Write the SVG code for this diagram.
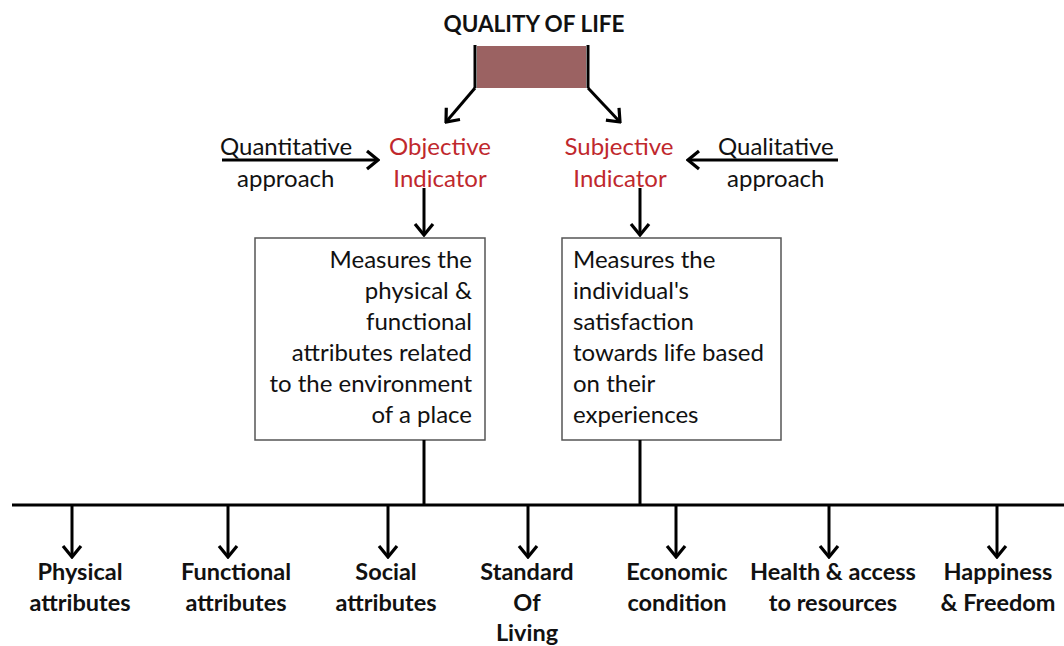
<svg xmlns="http://www.w3.org/2000/svg" width="1064" height="646" viewBox="0 0 1064 646">
<style>
text{font-family:Lato,"Open Sans","Liberation Sans",sans-serif;font-size:24px;fill:#111}
.b{font-weight:bold;font-size:23.5px}
.c{text-anchor:middle}
.r{text-anchor:end}
.red{fill:#c0282d}
.ln{stroke:#000;stroke-width:3;fill:none}
.ar{stroke:#000;stroke-width:3;fill:none;marker-end:url(#ah)}
.box{fill:#fff;stroke:#555;stroke-width:1.5}
</style>
<defs>
<marker id="ah" viewBox="-14 -12 16 24" refX="0" refY="0" markerWidth="16" markerHeight="24" markerUnits="userSpaceOnUse" orient="auto">
<path d="M-11,-9 L0,0 L-11,9" fill="none" stroke="#000" stroke-width="3.2"/>
</marker>
</defs>
<g id="quality">
<text class="b c" x="534" y="32" style="font-size:22.5px">QUALITY OF LIFE</text>
<rect x="477" y="46" width="109" height="42" fill="#9b6262"/>
</g>
<g id="quantitative"><text x="220" y="155">Quantitative</text><text x="237" y="187">approach</text></g>
<g id="objective"><text class="c red" x="440" y="155">Objective</text><text class="c red" x="440" y="187">Indicator</text></g>
<g id="subjective"><text class="c red" x="619" y="155">Subjective</text><text class="c red" x="620" y="187">Indicator</text></g>
<g id="qualitative"><text x="718" y="155">Qualitative</text><text x="727" y="187">approach</text></g>
<g id="obj-box">
<rect class="box" x="255" y="238" width="230" height="202"/>
<text class="r" x="472" y="268">Measures the</text>
<text class="r" x="472" y="299">physical &amp;</text>
<text class="r" x="472" y="330">functional</text>
<text class="r" x="472" y="361">attributes related</text>
<text class="r" x="472" y="392">to the environment</text>
<text class="r" x="472" y="423">of a place</text>
</g>
<g id="subj-box">
<rect class="box" x="562" y="238" width="219" height="202"/>
<text x="573" y="268">Measures the</text>
<text x="573" y="299">individual's</text>
<text x="573" y="330">satisfaction</text>
<text x="573" y="361">towards life based</text>
<text x="573" y="392">on their</text>
<text x="573" y="423">experiences</text>
</g>
<g id="connectors">
<path class="ln" d="M475,45 V88"/>
<path class="ln" d="M588,45 V88"/>
<path class="ar" d="M475,88 L446,122"/>
<path class="ar" d="M588,88 L620,122"/>
<path class="ar" d="M222,160 H378"/>
<path class="ar" d="M838,160 H688"/>
<path class="ar" d="M424,188 V235"/>
<path class="ar" d="M640,188 V235"/>
<path class="ln" d="M424,440 V505"/>
<path class="ln" d="M640,440 V505"/>
<path class="ln" d="M12,505 H1064"/>
<path class="ar" d="M72,505 V557"/>
<path class="ar" d="M228,505 V557"/>
<path class="ar" d="M388,505 V557"/>
<path class="ar" d="M528,505 V557"/>
<path class="ar" d="M676,505 V557"/>
<path class="ar" d="M829,505 V557"/>
<path class="ar" d="M997,505 V557"/>
</g>
<g id="physical"><text class="b c" x="80" y="580">Physical</text><text class="b c" x="80" y="611">attributes</text></g>
<g id="functional"><text class="b c" x="236" y="580">Functional</text><text class="b c" x="236" y="611">attributes</text></g>
<g id="social"><text class="b c" x="386" y="580">Social</text><text class="b c" x="386" y="611">attributes</text></g>
<g id="standard"><text class="b c" x="527" y="580">Standard</text><text class="b c" x="527" y="611">Of</text><text class="b c" x="527" y="641">Living</text></g>
<g id="economic"><text class="b c" x="677" y="580">Economic</text><text class="b c" x="677" y="611">condition</text></g>
<g id="health"><text class="b c" x="833" y="580">Health &amp; access</text><text class="b c" x="833" y="611">to resources</text></g>
<g id="happiness"><text class="b c" x="998" y="580">Happiness</text><text class="b c" x="998" y="611">&amp; Freedom</text></g>
</svg>
